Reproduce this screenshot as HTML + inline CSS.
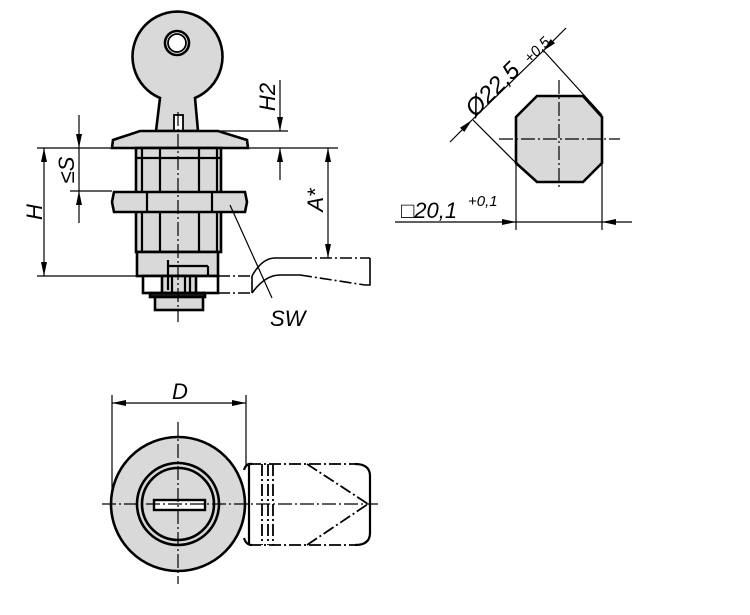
<!DOCTYPE html>
<html><head><style>html,body{margin:0;padding:0;background:#fff}svg{display:block}</style></head>
<body>
<svg width="750" height="615" viewBox="0 0 750 615" xmlns="http://www.w3.org/2000/svg" font-family="Liberation Sans, sans-serif">
<defs>
<marker id="a" markerWidth="14" markerHeight="8" refX="14" refY="4" orient="auto" markerUnits="userSpaceOnUse"><path d="M0,1 L14,4 L0,7 Z" fill="#000"/></marker>
</defs>
<g stroke="#000" fill="none" stroke-width="1.2">
<!-- key -->
<g stroke-width="2.6" fill="#d9d9d9">
<path d="M156,131 L160,98 A45,45 0 1 1 195,98 L198,131 Z"/>
<circle cx="177" cy="43" r="12" fill="#fff"/>
</g>
<circle cx="177" cy="43" r="9" stroke-width="1.8"/>
<rect x="174" y="115" width="9" height="16" fill="#fff" stroke-width="1.8"/>
<!-- flange -->
<path d="M140,131 L218,131 L247,140 L248,148 L112,148 L113,140 Z" fill="#d9d9d9" stroke-width="2.6"/>
<!-- body -->
<g stroke-width="2.6" fill="#d9d9d9">
<rect x="136" y="148" width="85" height="104"/>
<rect x="137" y="252" width="81" height="24"/>
<rect x="143" y="276" width="75" height="17" fill="#fff"/>
<rect x="162" y="276" width="34" height="17"/>
<rect x="150" y="293" width="55" height="4" fill="#222"/>
<rect x="155" y="297" width="48" height="13"/>
</g>
<g stroke-width="2.2">
<line x1="142" y1="148" x2="142" y2="252"/><line x1="160" y1="148" x2="160" y2="252"/>
<line x1="199" y1="148" x2="199" y2="252"/><line x1="217" y1="148" x2="217" y2="252"/>
<line x1="136" y1="158" x2="221" y2="158"/>
<line x1="168" y1="260" x2="168" y2="290"/><line x1="168" y1="266" x2="208" y2="266"/>
<line x1="208" y1="266" x2="208" y2="276"/>
<line x1="172" y1="276" x2="172" y2="293"/><line x1="185" y1="276" x2="185" y2="293"/><line x1="190" y1="276" x2="190" y2="293"/>
</g>
<!-- nut -->
<path d="M114,192 L245,192 L247,202 L245,212 L114,212 L112,202 Z" fill="#d9d9d9" stroke-width="2.6"/>
<line x1="147" y1="192" x2="147" y2="212" stroke-width="2.2"/>
<line x1="212" y1="192" x2="212" y2="212" stroke-width="2.2"/>
<!-- cam arm -->
<g stroke-width="1.6" stroke-dasharray="12,3,2,3">
<path d="M218,276 L252,276"/><path d="M218,293 L252,293"/>
<path d="M300,258 L370,258"/><path d="M300,275 L365,285"/>
</g>
<g stroke-width="1.6">
<path d="M252,276 L252,293"/>
<path d="M252,276 Q262,258 275,258 L300,258"/>
<path d="M252,293 Q265,275 280,275 L300,275"/>
<path d="M370,258 L370,285 L365,285"/>
</g>
<!-- centerline -->
<line x1="178" y1="112" x2="178" y2="322" stroke-dasharray="14,3,2,3"/>
<!-- dims left -->
<line x1="37" y1="148" x2="338" y2="148"/>
<line x1="37" y1="276" x2="143" y2="276"/>
<line x1="70" y1="191" x2="112" y2="191"/>
<line x1="218" y1="131" x2="288" y2="131"/>
<line x1="44" y1="212" x2="44" y2="148" marker-end="url(#a)"/>
<line x1="44" y1="212" x2="44" y2="276" marker-end="url(#a)"/>
<line x1="79" y1="115" x2="79" y2="148" marker-end="url(#a)"/>
<line x1="79" y1="223" x2="79" y2="191" marker-end="url(#a)"/>
<line x1="79" y1="148" x2="79" y2="191"/>
<line x1="280" y1="80" x2="280" y2="131" marker-end="url(#a)"/>
<line x1="280" y1="180" x2="280" y2="148" marker-end="url(#a)"/>
<line x1="328" y1="200" x2="328" y2="148" marker-end="url(#a)"/>
<line x1="328" y1="200" x2="328" y2="258" marker-end="url(#a)"/>
<line x1="230" y1="205" x2="272" y2="298"/>
<!-- octagon view -->
<path d="M537,96 L583,96 L602,117 L602,163 L583,182 L537,182 L516,163 L516,117 Z" fill="#d9d9d9" stroke-width="2.6"/>
<line x1="499" y1="139" x2="620" y2="139" stroke-dasharray="14,3,2,3"/>
<line x1="559" y1="80" x2="559" y2="188" stroke-dasharray="14,3,2,3"/>
<line x1="516" y1="163" x2="516" y2="230"/>
<line x1="602" y1="163" x2="602" y2="230"/>
<line x1="395" y1="222" x2="516" y2="222" marker-end="url(#a)"/>
<line x1="632" y1="222" x2="602" y2="222" marker-end="url(#a)"/>
<line x1="516" y1="222" x2="602" y2="222"/>
<line x1="473" y1="120" x2="516" y2="163"/>
<line x1="543" y1="50" x2="602" y2="115"/>
<line x1="450" y1="142" x2="472" y2="120" marker-end="url(#a)"/>
<line x1="566" y1="28" x2="543" y2="51" marker-end="url(#a)"/>
<line x1="472" y1="120" x2="543" y2="51"/>
<!-- bottom view -->
<circle cx="178" cy="504" r="67" fill="#d9d9d9" stroke-width="2.6"/>
<circle cx="178" cy="504" r="41" stroke-width="2.6"/>
<circle cx="178" cy="504" r="36" stroke-width="2.6"/>
<rect x="154" y="500" width="51" height="10" fill="#fff" stroke-width="2.4"/>
<path d="M244,470 Q246,463 252,464" stroke-width="2.2"/>
<path d="M244,538 Q246,545 252,545" stroke-width="2.2"/>
<line x1="249" y1="464" x2="249" y2="545" stroke-width="2.2"/>
<g stroke-width="1.8" stroke-dasharray="12,3,2,3">
<line x1="249" y1="464" x2="355" y2="464"/><line x1="249" y1="545" x2="355" y2="545"/>
<line x1="262" y1="464" x2="262" y2="545"/><line x1="268" y1="464" x2="268" y2="545"/>
<line x1="273" y1="464" x2="273" y2="545"/>
<line x1="307" y1="464" x2="368" y2="504"/><line x1="307" y1="545" x2="368" y2="504"/>
</g>
<path d="M355,464 Q370,464 370,476 L370,533 Q370,545 355,545" stroke-width="2.2"/>
<line x1="102" y1="504" x2="378" y2="504" stroke-dasharray="14,3,2,3"/>
<line x1="178" y1="422" x2="178" y2="584" stroke-dasharray="14,3,2,3"/>
<line x1="112" y1="395" x2="112" y2="490"/>
<line x1="246" y1="395" x2="246" y2="465"/>
<line x1="180" y1="403" x2="112" y2="403" marker-end="url(#a)"/>
<line x1="180" y1="403" x2="246" y2="403" marker-end="url(#a)"/>
</g>
<g font-style="italic" font-size="22" fill="#000">
<text transform="translate(42,212) rotate(-90)" text-anchor="middle">H</text>
<text transform="translate(74,170) rotate(-90)" text-anchor="middle">≤S</text>
<text transform="translate(275,97) rotate(-90)" text-anchor="middle">H2</text>
<text transform="translate(323,200) rotate(-90)" text-anchor="middle">A*</text>
<text x="270" y="326">SW</text>
<text x="172" y="399">D</text>
<text transform="translate(475,118) rotate(-45)" font-size="24">Ø22,5</text>
<text transform="translate(530,64) rotate(-45)" font-size="15">+0,5</text>
<text x="401" y="218">□20,1</text>
<text x="468" y="206" font-size="15">+0,1</text>
</g>
</svg>
</body></html>
